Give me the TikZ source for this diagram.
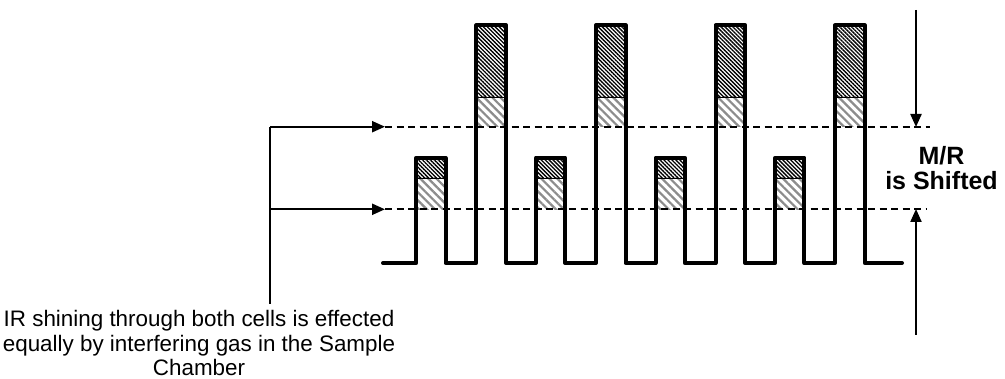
\documentclass[tikz,border=0pt]{standalone}
\usepackage{fontspec}
\setmainfont{Liberation Sans}
\usetikzlibrary{arrows.meta, patterns.meta}

\begin{document}
\begin{tikzpicture}[x=1pt, y=-1pt,
  wave/.style={line width=4pt, line join=round, line cap=round},
  lvl/.style={line width=1.8pt, dash pattern=on 7pt off 4.5pt},
  p/.style={-{Triangle[length=13pt, width=11pt]}, line width=2.2pt},
  dk/.style={pattern={Lines[angle=-45, distance=2.8pt, line width=1.35pt]}, draw, line width=0.8pt},
  lt/.style={pattern={Lines[angle=-45, distance=5.7pt, line width=2.2pt]}, pattern color=black!45}]
\useasboundingbox (0,0) rectangle (1005,379);
% hatched parts of the pulses
\foreach \k in {0,...,3} {
  \path[lt] ({416.3+119.6*\k},178) rectangle ({445.5+119.6*\k},209.3);
  \path[dk] ({416.3+119.6*\k},157.7) rectangle ({445.5+119.6*\k},178);
  \path[lt] ({476.3+119.6*\k},97) rectangle ({506+119.6*\k},126.7);
  \path[dk] ({476.3+119.6*\k},25.3) rectangle ({506+119.6*\k},97);
}
% levels
\coordinate (hi) at (385,126.7);
\coordinate (lo) at (385,209.3);
\coordinate (hiend) at (930,126.7);
\coordinate (loend) at (927,209.3);
\draw[lvl] (hi) -- (hiend);
\draw[lvl] (lo) -- (loend);
% detector signal
\draw[wave] (383,263) \foreach \k in {0,...,3} {
  -- ({416.3+119.6*\k},263) -- ({416.3+119.6*\k},157.7) -- ({445.5+119.6*\k},157.7)
  -- ({445.5+119.6*\k},263) -- ({476.3+119.6*\k},263) -- ({476.3+119.6*\k},25.3)
  -- ({506+119.6*\k},25.3) -- ({506+119.6*\k},263) } -- (902,263);
% bracket on the left
\coordinate (brktop) at (270,126.7);
\coordinate (brkmid) at (270,209.3);
\coordinate (brkbot) at (270,304);
\draw[line width=2.6pt] (brktop) -- (brkbot);
\draw[p] (brktop) -- (hi);
\draw[p] (brkmid) -- (lo);
\node[font=\fontsize{22.4}{24.3}\selectfont, align=center, inner sep=0pt] (note) at (199,343)
  {IR shining through both cells is effected\\equally by interfering gas in the Sample\\Chamber};
% shift on the right
\coordinate (dntop) at (916,10);
\coordinate (dntip) at (916,127);
\coordinate (upbot) at (916,335);
\coordinate (uptip) at (916,209);
\draw[p] (dntop) -- (dntip);
\draw[p] (upbot) -- (uptip);
\node[font=\bfseries\fontsize{25}{25}\selectfont, align=center, inner sep=0pt] (shift) at (941.5,168.5) {M/R\\is Shifted};
\end{tikzpicture}
\end{document}
